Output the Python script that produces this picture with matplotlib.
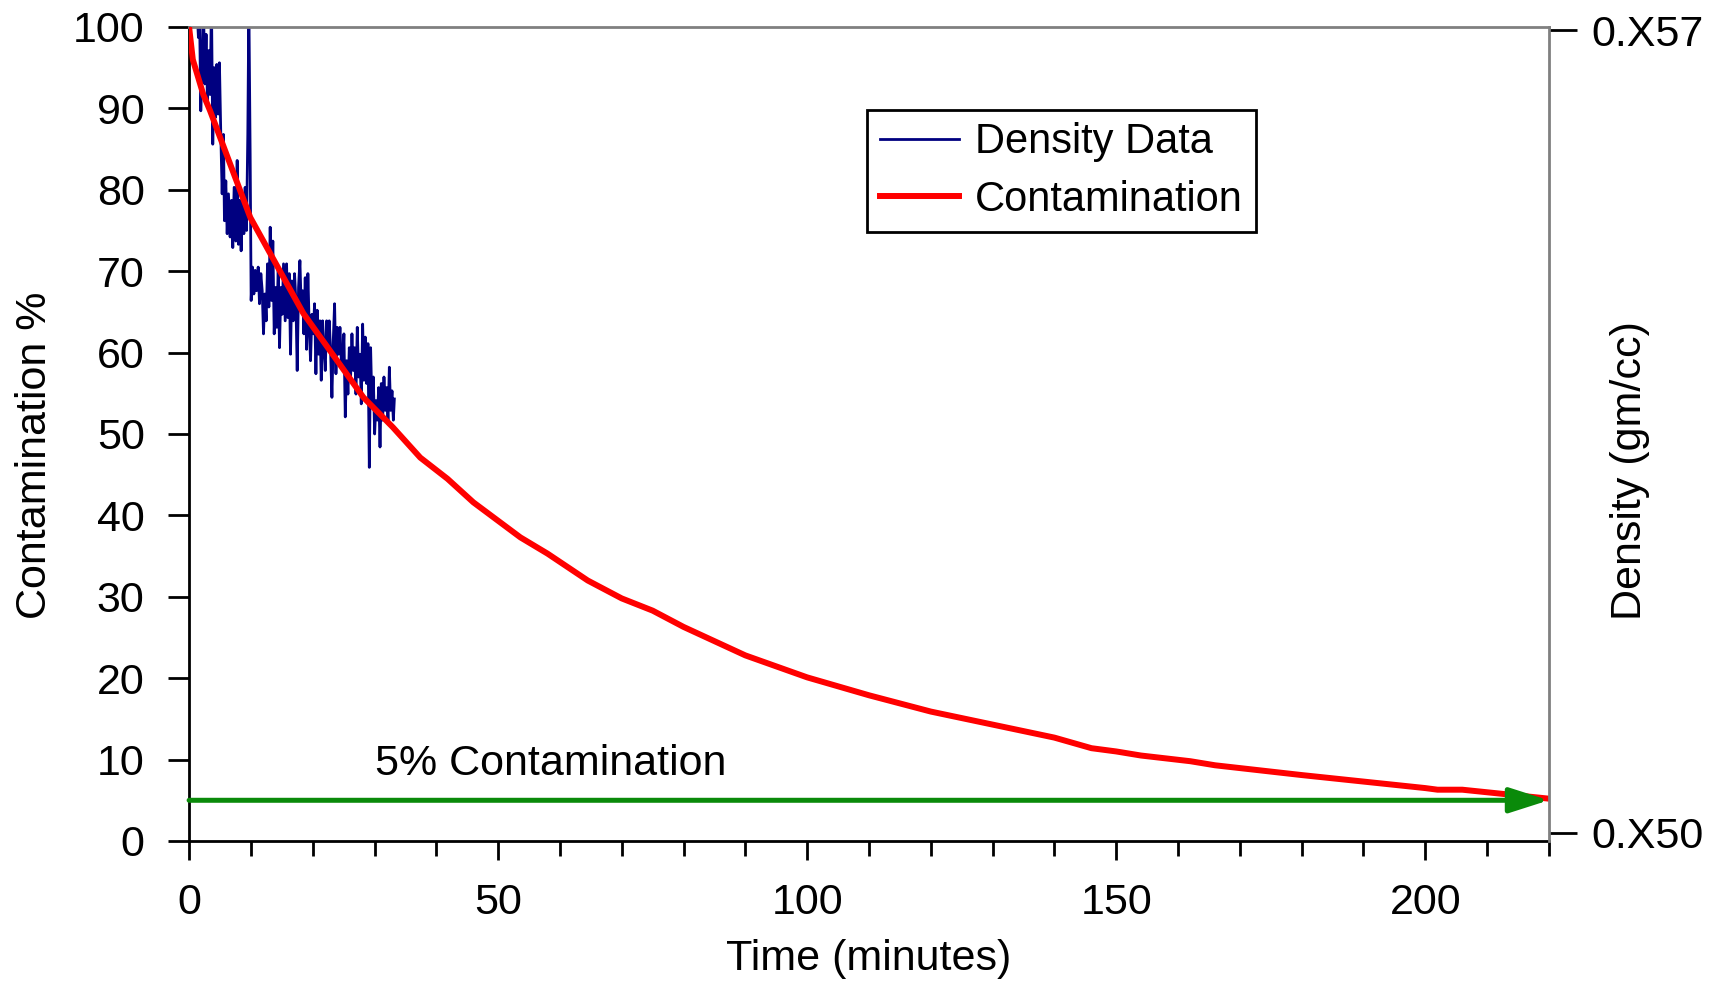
import matplotlib
matplotlib.use('Agg')
import matplotlib.pyplot as plt
from matplotlib.ticker import MultipleLocator

plt.rcParams['font.family'] = ['Liberation Sans', 'DejaVu Sans']

# Contamination curve (minutes, %)
contam_time = [0, 0.6, 2.3, 3.4, 9.9, 18.5, 28.2, 33.0, 37.4, 41.8, 46.0, 53.6,
               58.0, 64.5, 70, 75, 80, 90, 100, 110, 120, 130, 140, 146, 150,
               154, 162, 166, 180, 190, 200, 202, 206, 220]
contam_pct = [100, 96.0, 91.7, 89.7, 76.6, 64.8, 54.5, 50.8, 47.1, 44.5, 41.6,
              37.3, 35.3, 32.0, 29.8, 28.3, 26.3, 22.8, 20.1, 17.9, 15.9, 14.3,
              12.7, 11.4, 11.0, 10.5, 9.8, 9.3, 8.1, 7.3, 6.5, 6.3, 6.3, 5.2]

# Density data, drawn on the contamination scale
dens_time = [0, 1.24, 1.51, 1.67, 1.89, 2.11, 2.32, 2.54, 2.75, 2.97, 3.19, 3.40,
             3.62, 3.83, 4.05, 4.27, 4.48, 4.70, 4.91, 5.13, 5.35, 5.56, 5.72,
             5.94, 6.16, 6.37, 6.64, 6.86, 7.07, 7.29, 7.56, 7.78, 7.99, 8.21,
             8.42, 8.64, 8.86, 9.07, 9.29, 9.50, 9.67, 9.88, 10.04, 10.26, 10.48,
             10.69, 10.91, 11.18, 11.39, 11.61, 11.83, 12.04, 12.26, 12.47, 12.69,
             12.91, 13.12, 13.34, 13.55, 13.77, 13.98, 14.20, 14.42, 14.63, 14.85,
             15.06, 15.28, 15.55, 15.77, 15.98, 16.20, 16.41, 16.63, 16.85, 17.06,
             17.28, 17.49, 17.71, 17.93, 18.14, 18.36, 18.57, 18.79, 19.01, 19.22,
             19.44, 19.65, 19.87, 20.09, 20.30, 20.52, 20.73, 20.95, 21.17, 21.38,
             21.60, 21.81, 22.03, 22.25, 22.46, 22.68, 22.89, 23.11, 23.33, 23.54,
             23.76, 23.97, 24.19, 24.41, 24.62, 24.84, 25.05, 25.27, 25.49, 25.70,
             25.92, 26.13, 26.35, 26.57, 26.78, 27.00, 27.21, 27.43, 27.65, 27.86,
             28.08, 28.29, 28.51, 28.73, 28.94, 29.16, 29.37, 29.59, 29.81, 30.02,
             30.24, 30.45, 30.67, 30.89, 31.10, 31.32, 31.53, 31.75, 31.97, 32.18,
             32.40, 32.61, 32.83, 33.05, 33.21]
dens_val = [104, 103, 98.7, 103, 89.7, 95.0, 103, 93.0, 99.1, 90.9, 97.1, 91.7,
            103, 85.6, 95.0, 88.9, 95.4, 89.3, 95.6, 86.8, 79.5, 86.8, 76.2,
            81.1, 74.6, 79.5, 74.2, 78.7, 72.9, 80.3, 73.7, 83.6, 73.3, 78.7,
            72.5, 79.5, 74.6, 80.3, 75.0, 86.8, 103, 84.4, 66.4, 70.5, 67.2,
            70.1, 67.6, 70.5, 66.0, 69.7, 67.6, 62.3, 67.2, 63.9, 70.9,
            65.6, 75.4, 66.4, 73.7, 62.3, 68.0, 63.1, 70.5, 60.6, 68.0,
            64.7, 70.9, 63.9, 70.9, 64.3, 69.7, 59.8, 68.8, 63.9, 69.7,
            66.4, 57.8, 68.0, 71.3, 65.6, 67.6, 62.3, 69.2, 60.4, 69.7,
            63.1, 59.0, 64.7, 62.3, 66.0, 57.4, 65.2, 59.8, 63.9, 56.6,
            63.9, 60.6, 57.8, 63.9, 60.6, 63.9, 60.2, 54.5, 61.5, 66.0,
            57.4, 63.1, 59.8, 63.1, 59.0, 58.2, 62.3, 52.1, 59.0, 54.9,
            60.6, 57.0, 62.3, 57.8, 60.6, 54.9, 63.1, 57.0, 59.8, 53.7,
            63.5, 56.6, 61.9, 56.2, 61.1, 45.9, 60.6, 53.3, 57.0, 50.0,
            54.1, 51.7, 55.7, 48.4, 56.2, 51.7, 57.0, 52.9, 55.7, 51.3,
            58.2, 52.9, 55.3, 51.7, 54.3]

target_pct = 5
density_ticks = [0.50, 0.57]
density_labels = ['0.X50', '0.X57']

fig = plt.figure(figsize=(17.19, 9.88), dpi=100)
ax1 = fig.add_axes([0.110, 0.1488, 0.791, 0.8239])

ax1.plot(dens_time, dens_val, color='#000080', lw=2, label='Density Data', zorder=2)
ax1.plot(contam_time, contam_pct, color='#ff0000', lw=4.3, label='Contamination', zorder=3)
ax1.annotate('', xy=(220, target_pct), xytext=(0, target_pct),
             arrowprops=dict(arrowstyle='-|>,head_length=1.0,head_width=0.32',
                             color='#0a8a0a', lw=3.6,
                             mutation_scale=24, shrinkA=0, shrinkB=0), zorder=4)
ax1.text(30, 9.4, '5% Contamination', fontsize=31, ha='left', va='center')

ax1.set_xlim(0, 220)
ax1.set_ylim(0, 100)
ax1.xaxis.set_major_locator(MultipleLocator(50))
ax1.xaxis.set_minor_locator(MultipleLocator(10))
ax1.yaxis.set_major_locator(MultipleLocator(10))
ax1.tick_params(axis='x', which='major', direction='out', length=14, width=2,
                labelsize=31, pad=16)
ax1.tick_params(axis='x', which='minor', direction='out', length=11, width=2)
ax1.tick_params(axis='y', direction='out', length=15, width=2, labelsize=31, pad=17)

for side in ['left', 'bottom']:
    ax1.spines[side].set_linewidth(2)
    ax1.spines[side].set_color('black')
ax1.spines['top'].set_color('#808080')
ax1.spines['top'].set_linewidth(2)
ax1.spines['right'].set_visible(False)

ax2 = ax1.twinx()
ax2.set_ylim(0.49929, 0.57028)
ax2.set_yticks(density_ticks)
ax2.set_yticklabels(density_labels)
ax2.tick_params(axis='y', direction='out', length=20, width=2, labelsize=31, pad=11)
ax2.spines['right'].set_color('#808080')
ax2.spines['right'].set_linewidth(2)
for side in ['left', 'top', 'bottom']:
    ax2.spines[side].set_visible(False)

fig.text(35 / 1719, 1 - 455 / 988, 'Contamination %', rotation=90,
         ha='center', va='center', fontsize=31)
fig.text(1630 / 1719, 1 - 471 / 988, 'Density (gm/cc)', rotation=90,
         ha='center', va='center', fontsize=31)
fig.text(869 / 1719, 1 - 959 / 988, 'Time (minutes)', ha='center', va='center',
         fontsize=31)

leg = ax1.legend(loc='upper left', bbox_to_anchor=(867 / 1719, 1 - 110 / 988),
                 bbox_transform=fig.transFigure, borderaxespad=0, fontsize=30,
                 fancybox=False, framealpha=1, edgecolor='black',
                 handlelength=1.9, handletextpad=0.4, borderpad=0.3,
                 labelspacing=0.42)
leg.get_frame().set_linewidth(2)
leg.set_zorder(10)

fig.savefig('out.png', dpi=100)
